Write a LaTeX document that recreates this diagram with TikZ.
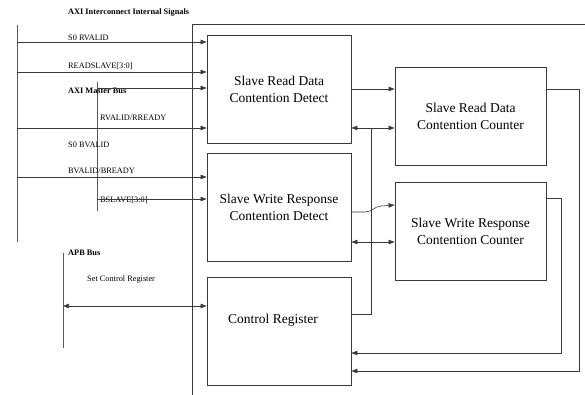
\documentclass[tikz,border=0pt]{standalone}
\usepackage{fontspec}
\setmainfont{Liberation Serif}
\usepackage{tikz}
\usetikzlibrary{arrows.meta, positioning, calc}
\definecolor{LineGray}{HTML}{3A3A3A}
\definecolor{BusGray}{HTML}{5A5A5A}

\begin{document}
\begin{tikzpicture}[
  x=1pt, y=-1pt,
  block/.style={rectangle, draw=LineGray, line width=0.8pt, align=center, font=\fontsize{13.5}{17}\selectfont},
  detect/.style={block, minimum width=144pt, minimum height=108pt},
  counter/.style={block, minimum width=151pt, minimum height=98pt},
  sig/.style={-{Triangle[length=6pt, width=4.5pt]}, line width=0.6pt, LineGray},
  bidir/.style={{Triangle[length=6pt, width=4.5pt]}-{Triangle[length=6pt, width=4.5pt]}, line width=0.6pt, LineGray},
  wire/.style={line width=0.6pt, LineGray},
  bus/.style={line width=1pt, BusGray},
  label/.style={anchor=base west, inner sep=0pt, font=\fontsize{8.3}{10}\selectfont},
  title/.style={label, font=\fontsize{8.3}{10}\selectfont\bfseries}
]
\useasboundingbox (0,0) rectangle (585,395);

\node[detect] (rd) at (279,89) {Slave Read Data\\ Contention Detect};
\node[detect] (wd) at (279,207) {Slave Write Response\\ Contention Detect};
\node[detect] (cr) at (279,331) {};
\node[block, draw=none, inner sep=0pt] (crtext) at (273,320) {Control Register};
\node[counter] (rc) at (470.5,116.5) {Slave Read Data\\ Contention Counter};
\node[counter] (wc) at (470.5,231) {Slave Write Response\\ Contention Counter};

\draw[wire] (192,395) -- (192,24) -- (585,24);

\draw[bus] (17,25) -- (17,242);
\draw[bus] (97,82) -- (97,211);
\draw[bus] (63,253) -- (63,348);

\node[title] (axiint) at (68,15) {AXI Interconnect Internal Signals};
\node[label] (s0rvalid) at (68,41) {S0 RVALID};
\node[label] (readslave) at (68,68.5) {READSLAVE[3:0]};
\node[title] (aximaster) at (68,94) {AXI Master Bus};
\node[label] (rvalid) at (100,120.5) {RVALID/RREADY};
\node[label] (s0bvalid) at (68,147.5) {S0 BVALID};
\node[label] (bvalid) at (68,174) {BVALID/BREADY};
\node[label] (bslave) at (100,202) {BSLAVE[3:0]};
\node[title] (apbbus) at (68,255) {APB Bus};
\node[label] (setcr) at (87,281.5) {Set Control Register};

\coordinate (s0rv) at (17,42);
\coordinate (rdsl) at (17,72);
\coordinate (mrv) at (97,88);
\coordinate (rvrr) at (17,128);
\coordinate (bvbr) at (17,177);
\coordinate (bsl) at (97,199);
\coordinate (apb) at (63,306);

\draw[sig] (s0rv) -- (s0rv -| rd.west);
\draw[sig] (rdsl) -- (rdsl -| rd.west);
\draw[sig] (mrv) -- (mrv -| rd.west);
\draw[sig] (rvrr) -- (rvrr -| rd.west);
\draw[sig] (bvbr) -- (bvbr -| wd.west);
\draw[sig] (bsl) -- (bsl -| wd.west);
\draw[bidir] (apb) -- (apb -| cr.west);

\coordinate (rdfb) at (371,128);
\coordinate (wdfb) at (371,242);
\coordinate (crfb) at (371,314);
\coordinate (wdout) at (351,212);
\coordinate (wcin) at (395,205);
\coordinate (wcr) at (561,198);
\coordinate (wcrb) at (561,353);
\coordinate (rcr) at (579,89);
\coordinate (rcrb) at (579,371);

\draw[sig] (rd.east) -- (rd.east -| rc.west);
\draw[bidir] (rdfb -| rd.east) -- (rdfb -| rc.west);
\draw[bidir] (wdfb -| wd.east) -- (wdfb -| wc.west);
\draw[wire] (rdfb) -- (crfb) -- (crfb -| cr.east);
\draw[sig] (wdout -| wd.east) -- ++(14,0) to[out=0, in=180] ++(16,-6) -- (wcin -| wc.west);
\draw[sig] (wcr -| wc.east) -- (wcr) -- (wcrb) -- (wcrb -| cr.east);
\draw[sig] (rcr -| rc.east) -- (rcr) -- (rcrb) -- (rcrb -| cr.east);

\end{tikzpicture}
\end{document}
